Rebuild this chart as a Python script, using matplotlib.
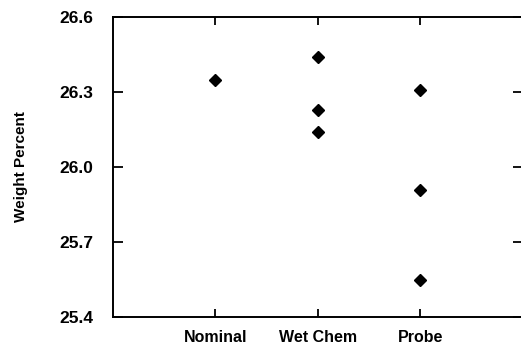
import matplotlib
matplotlib.use("Agg")
import matplotlib.pyplot as plt

# data
categories = ["Nominal", "Wet Chem", "Probe"]
nominal = [26.35]
wet_chem = [26.44, 26.23, 26.14]
probe = [26.31, 25.91, 25.55]
y_ticks = [25.4, 25.7, 26.0, 26.3, 26.6]

plt.rcParams['font.family'] = ['Liberation Sans', 'DejaVu Sans']
plt.rcParams['font.weight'] = 'bold'

fig = plt.figure(figsize=(5.21, 3.48), dpi=100)
ax = fig.add_axes([113/521, 1-317/348, 410/521, 300/348])

# plot each group at x = 1, 2, 3
for i, vals in enumerate([nominal, wet_chem, probe]):
    ax.plot([i + 1] * len(vals), vals, linestyle='none', marker='D',
            color='black', markersize=6.5, clip_on=False)

ax.set_xlim(0, 4)
ax.set_ylim(25.4, 26.6)
ax.set_xticks([1, 2, 3])
ax.set_xticklabels(categories, fontsize=11.5, fontweight='bold')
ax.set_yticks(y_ticks)
ax.set_yticklabels(["%.1f" % v for v in y_ticks], fontsize=12.5, fontweight='bold')
ax.set_ylabel("Weight Percent", fontsize=11, fontweight='bold', labelpad=23)

for s in ax.spines.values():
    s.set_linewidth(1.4)
ax.spines['right'].set_visible(False)

ax.tick_params(axis='y', direction='in', length=7, width=1.3, pad=14,
               left=True, right=True)
ax.tick_params(axis='x', direction='in', length=6, width=1.3, pad=9,
               top=True, bottom=True)

fig.savefig("out.png", dpi=100)
